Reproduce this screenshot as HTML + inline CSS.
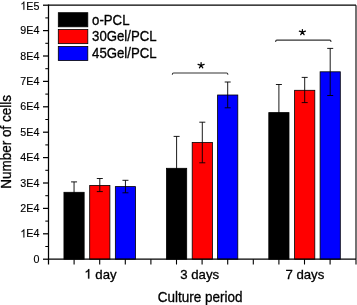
<!DOCTYPE html>
<html><head><meta charset="utf-8"><style>html,body{margin:0;padding:0;background:#fff;}svg{display:block;}</style></head>
<body>
<svg width="357" height="305" viewBox="0 0 357 305">
<rect width="357" height="305" fill="#fff"/>
<defs><filter id="g" x="-0.1" y="-0.1" width="1.2" height="1.2"><feColorMatrix type="saturate" values="0"/></filter></defs>
<rect x="63.95" y="192.30" width="20.20" height="66.90" fill="#000" stroke="#000" stroke-width="0.8"/>
<rect x="89.70" y="185.40" width="20.20" height="73.80" fill="#f00" stroke="#000" stroke-width="0.8"/>
<rect x="115.35" y="186.60" width="20.20" height="72.60" fill="#00f" stroke="#000" stroke-width="0.8"/>
<rect x="166.50" y="168.30" width="20.20" height="90.90" fill="#000" stroke="#000" stroke-width="0.8"/>
<rect x="192.20" y="142.50" width="20.20" height="116.70" fill="#f00" stroke="#000" stroke-width="0.8"/>
<rect x="217.60" y="95.00" width="20.20" height="164.20" fill="#00f" stroke="#000" stroke-width="0.8"/>
<rect x="268.80" y="112.60" width="20.20" height="146.60" fill="#000" stroke="#000" stroke-width="0.8"/>
<rect x="294.60" y="90.30" width="20.20" height="168.90" fill="#f00" stroke="#000" stroke-width="0.8"/>
<rect x="320.10" y="71.80" width="20.20" height="187.40" fill="#00f" stroke="#000" stroke-width="0.8"/>
<path d="M74.05 181.90V201.90M71.05 181.90H77.05M71.05 201.90H77.05" stroke="#000" stroke-width="0.9" fill="none"/>
<path d="M99.80 178.50V191.60M96.80 178.50H102.80M96.80 191.60H102.80" stroke="#000" stroke-width="0.9" fill="none"/>
<path d="M125.45 180.30V192.80M122.45 180.30H128.45M122.45 192.80H128.45" stroke="#000" stroke-width="0.9" fill="none"/>
<path d="M176.60 136.40V199.40M173.60 136.40H179.60M173.60 199.40H179.60" stroke="#000" stroke-width="0.9" fill="none"/>
<path d="M202.30 122.20V162.80M199.30 122.20H205.30M199.30 162.80H205.30" stroke="#000" stroke-width="0.9" fill="none"/>
<path d="M227.70 82.00V107.80M224.70 82.00H230.70M224.70 107.80H230.70" stroke="#000" stroke-width="0.9" fill="none"/>
<path d="M278.90 84.50V139.90M275.90 84.50H281.90M275.90 139.90H281.90" stroke="#000" stroke-width="0.9" fill="none"/>
<path d="M304.70 77.40V102.60M301.70 77.40H307.70M301.70 102.60H307.70" stroke="#000" stroke-width="0.9" fill="none"/>
<path d="M330.20 48.40V95.50M327.20 48.40H333.20M327.20 95.50H333.20" stroke="#000" stroke-width="0.9" fill="none"/>
<path d="M48.5 5.2H356.0" fill="none" stroke="#000" stroke-width="1.2"/>
<path d="M356 5.2V259.2" fill="none" stroke="#000" stroke-width="1.1"/>
<path d="M48.5 4.4V259.2H356" fill="none" stroke="#000" stroke-width="1.25"/>
<path d="M43.0 259.20H48.5" stroke="#000" stroke-width="1.25"/>
<path d="M43.0 233.80H48.5" stroke="#000" stroke-width="1.25"/>
<path d="M43.0 208.40H48.5" stroke="#000" stroke-width="1.25"/>
<path d="M43.0 183.00H48.5" stroke="#000" stroke-width="1.25"/>
<path d="M43.0 157.60H48.5" stroke="#000" stroke-width="1.25"/>
<path d="M43.0 132.20H48.5" stroke="#000" stroke-width="1.25"/>
<path d="M43.0 106.80H48.5" stroke="#000" stroke-width="1.25"/>
<path d="M43.0 81.40H48.5" stroke="#000" stroke-width="1.25"/>
<path d="M43.0 56.00H48.5" stroke="#000" stroke-width="1.25"/>
<path d="M43.0 30.60H48.5" stroke="#000" stroke-width="1.25"/>
<path d="M43.0 5.20H48.5" stroke="#000" stroke-width="1.25"/>
<path d="M45.3 246.50H48.5" stroke="#000" stroke-width="1.05"/>
<path d="M45.3 221.10H48.5" stroke="#000" stroke-width="1.05"/>
<path d="M45.3 195.70H48.5" stroke="#000" stroke-width="1.05"/>
<path d="M45.3 170.30H48.5" stroke="#000" stroke-width="1.05"/>
<path d="M45.3 144.90H48.5" stroke="#000" stroke-width="1.05"/>
<path d="M45.3 119.50H48.5" stroke="#000" stroke-width="1.05"/>
<path d="M45.3 94.10H48.5" stroke="#000" stroke-width="1.05"/>
<path d="M45.3 68.70H48.5" stroke="#000" stroke-width="1.05"/>
<path d="M45.3 43.30H48.5" stroke="#000" stroke-width="1.05"/>
<path d="M45.3 17.90H48.5" stroke="#000" stroke-width="1.05"/>
<path d="M48.50 259.2V264.5" stroke="#000" stroke-width="1.25"/>
<path d="M74.10 259.2V264.5" stroke="#000" stroke-width="1.1"/>
<path d="M99.70 259.2V264.5" stroke="#000" stroke-width="1.1"/>
<path d="M125.30 259.2V264.5" stroke="#000" stroke-width="1.1"/>
<path d="M150.90 259.2V264.5" stroke="#000" stroke-width="1.1"/>
<path d="M176.50 259.2V264.5" stroke="#000" stroke-width="1.1"/>
<path d="M202.10 259.2V264.5" stroke="#000" stroke-width="1.1"/>
<path d="M227.70 259.2V264.5" stroke="#000" stroke-width="1.1"/>
<path d="M253.30 259.2V264.5" stroke="#000" stroke-width="1.1"/>
<path d="M278.90 259.2V264.5" stroke="#000" stroke-width="1.1"/>
<path d="M304.50 259.2V264.5" stroke="#000" stroke-width="1.1"/>
<path d="M330.10 259.2V264.5" stroke="#000" stroke-width="1.1"/>
<path d="M356.00 259.2V264.5" stroke="#000" stroke-width="1.1"/>
<rect x="58.3" y="12.70" width="29.5" height="14.1" fill="#000" stroke="#000" stroke-width="0.8"/>
<rect x="58.3" y="29.55" width="29.5" height="14.1" fill="#f00" stroke="#000" stroke-width="0.8"/>
<rect x="58.3" y="46.40" width="29.5" height="14.1" fill="#00f" stroke="#000" stroke-width="0.8"/>
<path d="M172.3 74.8Q172.3 73.0 173.60000000000002 73.0H226.6Q227.9 73.0 227.9 74.8" stroke="#333" stroke-width="1.1" fill="none"/>
<path d="M275.6 41.9Q275.6 40.1 276.90000000000003 40.1H329.7Q331.0 40.1 331.0 41.9" stroke="#333" stroke-width="1.1" fill="none"/>
<path d="M201.10 65.30L201.10 62.60M201.10 65.30L204.14 64.31M201.10 65.30L198.06 64.31M201.10 65.30L202.78 67.79M201.10 65.30L199.42 67.79" stroke="#000" stroke-width="1.25" stroke-linecap="round" fill="none"/>
<path d="M302.40 32.20L302.40 29.50M302.40 32.20L305.44 31.21M302.40 32.20L299.36 31.21M302.40 32.20L304.08 34.69M302.40 32.20L300.72 34.69" stroke="#000" stroke-width="1.25" stroke-linecap="round" fill="none"/>
<g filter="url(#g)" font-family="'Liberation Sans', sans-serif" fill="#000" stroke="#000" stroke-width="0.3">
<text transform="translate(39.40 262.80) scale(1 1.06)" font-size="10.7" text-anchor="end" stroke-width="0.15">0</text>
<text transform="translate(39.40 237.40) scale(1 1.06)" font-size="10.7" text-anchor="end" stroke-width="0.15">E4</text>
<path transform="translate(20.36 237.40) scale(0.005225 -0.005538)" d="M763 0L583 0L583 1147Q518 1085 412 1023Q306 961 222 930L222 1104Q373 1175 486 1276Q599 1377 646 1472L763 1472Z" stroke-width="0.15" vector-effect="non-scaling-stroke"/>
<text transform="translate(39.40 212.00) scale(1 1.06)" font-size="10.7" text-anchor="end" stroke-width="0.15">2E4</text>
<text transform="translate(39.40 186.60) scale(1 1.06)" font-size="10.7" text-anchor="end" stroke-width="0.15">3E4</text>
<text transform="translate(39.40 161.20) scale(1 1.06)" font-size="10.7" text-anchor="end" stroke-width="0.15">4E4</text>
<text transform="translate(39.40 135.80) scale(1 1.06)" font-size="10.7" text-anchor="end" stroke-width="0.15">5E4</text>
<text transform="translate(39.40 110.40) scale(1 1.06)" font-size="10.7" text-anchor="end" stroke-width="0.15">6E4</text>
<text transform="translate(39.40 85.00) scale(1 1.06)" font-size="10.7" text-anchor="end" stroke-width="0.15">7E4</text>
<text transform="translate(39.40 59.60) scale(1 1.06)" font-size="10.7" text-anchor="end" stroke-width="0.15">8E4</text>
<text transform="translate(39.40 34.20) scale(1 1.06)" font-size="10.7" text-anchor="end" stroke-width="0.15">9E4</text>
<text transform="translate(39.40 9.70) scale(1 1.06)" font-size="10.7" text-anchor="end" stroke-width="0.15">E5</text>
<path transform="translate(20.36 9.70) scale(0.005225 -0.005538)" d="M763 0L583 0L583 1147Q518 1085 412 1023Q306 961 222 930L222 1104Q373 1175 486 1276Q599 1377 646 1472L763 1472Z" stroke-width="0.15" vector-effect="non-scaling-stroke"/>
<path transform="translate(84.35 278.60) scale(0.006445 -0.006445)" d="M763 0L583 0L583 1147Q518 1085 412 1023Q306 961 222 930L222 1104Q373 1175 486 1276Q599 1377 646 1472L763 1472Z" stroke-width="0.3" vector-effect="non-scaling-stroke"/>
<text transform="translate(91.70 278.60) scale(1 1.0)" font-size="13.2">&#160;day</text>
<text transform="translate(199.70 278.60) scale(1 1.0)" font-size="13.2" text-anchor="middle">3 days</text>
<text transform="translate(304.80 278.60) scale(1 1.0)" font-size="13.2" text-anchor="middle">7 days</text>
<text transform="translate(200.10 301.60) scale(1 1.06)" font-size="13.5" text-anchor="middle">Culture period</text>
<text transform="translate(11.20 141.80) rotate(-90) scale(1 1.06)" font-size="13.5" text-anchor="middle">Number of cells</text>
<text transform="translate(92.10 25.10) scale(1 1.08)" font-size="13.2">o-PCL</text>
<text transform="translate(92.10 41.40) scale(1 1.08)" font-size="13.2">30Gel/PCL</text>
<text transform="translate(92.10 57.70) scale(1 1.08)" font-size="13.2">45Gel/PCL</text>
</g>
</svg>
</body></html>
